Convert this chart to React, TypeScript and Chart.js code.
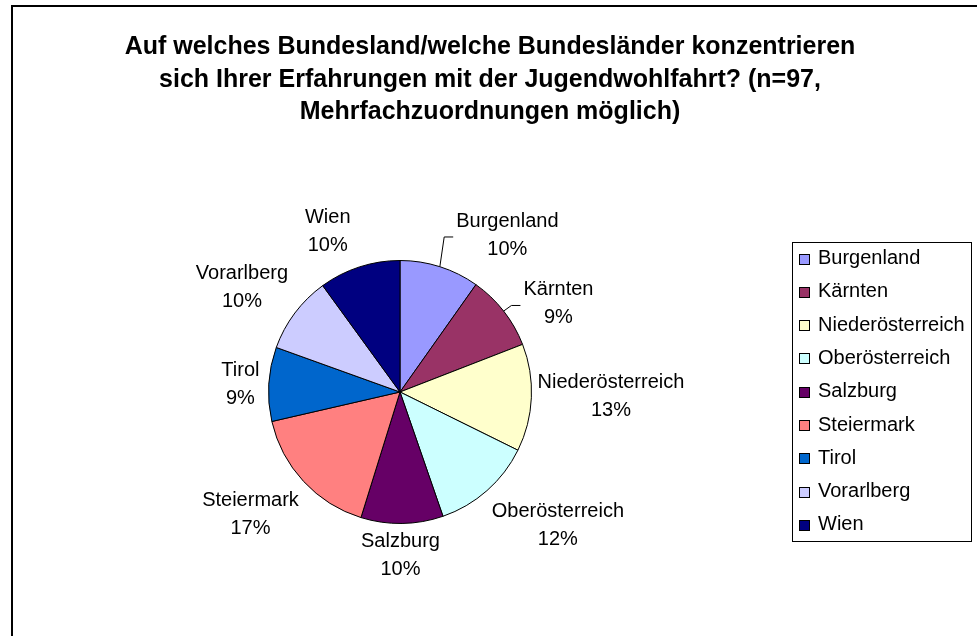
import { useEffect, useRef } from "react";
import { Chart, ArcElement, PieController } from "chart.js";

Chart.register(ArcElement, PieController);

// ---- data ----
const CATEGORIES = [
  "Burgenland",
  "Kärnten",
  "Niederösterreich",
  "Oberösterreich",
  "Salzburg",
  "Steiermark",
  "Tirol",
  "Vorarlberg",
  "Wien",
];
const SHARES = [9.8, 9.3, 13.2, 12.4, 10.1, 16.6, 9.1, 9.5, 10.0];
const TITLE_LINES = [
  "Auf welches Bundesland/welche Bundesländer konzentrieren",
  "sich Ihrer Erfahrungen mit der Jugendwohlfahrt? (n=97,",
  "Mehrfachzuordnungen möglich)",
];

// ---- styles ----
const COLORS = [
  "#9999FF",
  "#993366",
  "#FFFFCC",
  "#CCFFFF",
  "#660066",
  "#FF8080",
  "#0066CC",
  "#CCCCFF",
  "#000080",
];
const FONT = '"Liberation Sans", Arial, Helvetica, sans-serif';
// label centre offset from the slice's outer mid-point
const LABEL_OFFSETS: [number, number][] = [
  [67.5, -31.2],
  [54.8, -7.1],
  [79.6, -0.8],
  [70.9, 34.4],
  [-1.6, 32.3],
  [-53.1, 32.8],
  [-28.3, 0],
  [-52.9, -25.8],
  [-31.6, -35.7],
];
const LEADER_LINES = [true, true, false, false, false, false, false, false, false];
const TITLE_STYLE = { x: 490, ys: [47, 80, 112], size: 25 };
const LEGEND_STYLE = { x: 792.5, y: 242.5, w: 179, h: 299, firstRow: 258.5, rowGap: 33.3, box: 10, boxX: 799.5, textX: 818 };

const overlayPlugin = {
  id: "overlay",
  afterDraw(chart: any) {
    const ctx: CanvasRenderingContext2D = chart.ctx;
    const meta = chart.getDatasetMeta(0);
    const values: number[] = chart.data.datasets[0].data;
    const labels: string[] = chart.data.labels;
    const colors: string[] = chart.data.datasets[0].backgroundColor;
    const total = values.reduce((a, b) => a + b, 0);

    ctx.save();
    // title
    ctx.fillStyle = "#000";
    ctx.textAlign = "center";
    ctx.textBaseline = "middle";
    ctx.font = `bold ${TITLE_STYLE.size}px ${FONT}`;
    TITLE_LINES.forEach((line, i) => ctx.fillText(line, TITLE_STYLE.x, TITLE_STYLE.ys[i]));

    // slice labels
    ctx.font = `20px ${FONT}`;
    meta.data.forEach((arc: any, i: number) => {
      const p = arc.getProps(["x", "y", "startAngle", "endAngle", "outerRadius"], true);
      const mid = (p.startAngle + p.endAngle) / 2;
      const px = p.x + Math.cos(mid) * p.outerRadius;
      const py = p.y + Math.sin(mid) * p.outerRadius;
      const [ox, oy] = LABEL_OFFSETS[i];
      const cx = px + ox;
      const cy = py + oy;
      const pct = Math.round((values[i] / total) * 100) + "%";
      ctx.fillStyle = "#000";
      ctx.fillText(labels[i], cx, cy - 14);
      ctx.fillText(pct, cx, cy + 14);
      if (LEADER_LINES[i]) {
        const w = Math.max(ctx.measureText(labels[i]).width, ctx.measureText(pct).width);
        const left = cx - w / 2;
        ctx.beginPath();
        ctx.strokeStyle = "#000";
        ctx.lineWidth = 1;
        ctx.moveTo(left - 3, cy + 1.5);
        ctx.lineTo(left - 12, cy + 1.5);
        ctx.lineTo(px, py);
        ctx.stroke();
      }
    });

    // legend
    const L = LEGEND_STYLE;
    ctx.lineWidth = 1;
    ctx.strokeStyle = "#000";
    ctx.fillStyle = "#fff";
    ctx.fillRect(L.x, L.y, L.w, L.h);
    ctx.strokeRect(L.x, L.y, L.w, L.h);
    ctx.textAlign = "left";
    labels.forEach((lab, i) => {
      const cy = L.firstRow + i * L.rowGap;
      const by = Math.round(cy - L.box / 2) + 0.5;
      ctx.fillStyle = colors[i];
      ctx.fillRect(L.boxX, by, L.box, L.box);
      ctx.strokeRect(L.boxX, by, L.box, L.box);
      ctx.fillStyle = "#000";
      ctx.fillText(lab, L.textX, cy);
    });
    ctx.restore();
  },
};

export default function App() {
  const ref = useRef<HTMLCanvasElement | null>(null);
  useEffect(() => {
    if (!ref.current) return;
    const chart = new Chart(ref.current, {
      type: "pie",
      data: {
        labels: CATEGORIES,
        datasets: [
          {
            data: SHARES,
            backgroundColor: COLORS,
            borderColor: "#000",
            borderWidth: 1,
          },
        ],
      },
      options: {
        responsive: false,
        animation: false,
        layout: { padding: { left: 268, right: 445, top: 260, bottom: 112 } },
        plugins: { legend: { display: false }, tooltip: { enabled: false } } as any,
        events: [],
      },
      plugins: [overlayPlugin],
    });
    return () => chart.destroy();
  }, []);

  return (
    <div
      style={{
        position: "fixed",
        left: 0,
        top: 0,
        width: 977,
        height: 636,
        overflow: "hidden",
        background: "#fff",
      }}
    >
      <div
        style={{
          position: "absolute",
          left: 11,
          top: 5,
          width: 1100,
          height: 800,
          border: "2px solid #000",
        }}
      />
      <canvas
        ref={ref}
        width={977}
        height={636}
        style={{ position: "absolute", left: 0, top: 0, width: 977, height: 636 }}
      />
    </div>
  );
}
